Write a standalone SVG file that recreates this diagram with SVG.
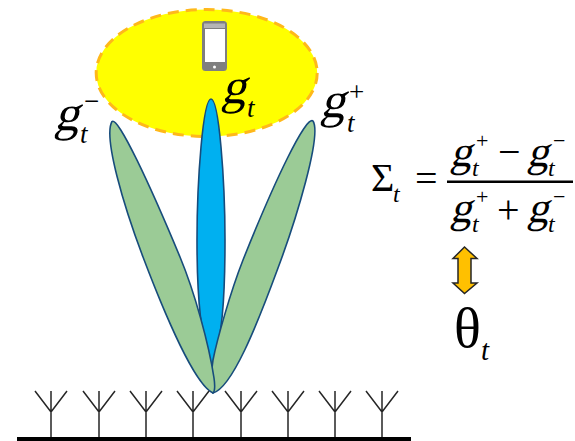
<svg xmlns="http://www.w3.org/2000/svg" width="575" height="441" viewBox="0 0 575 441">
<defs>
<style>
.m{font-family:"Liberation Serif","Times New Roman",serif;fill:#000}
.i{font-style:italic}
.ant{fill:none;stroke:#262626;stroke-width:1.5}
.side{fill:#9BCB96;stroke:#174C7C;stroke-width:1.6}
</style>
<g id="a"><path class="ant" d="M0 391V437M-16 391L0 412L16 391"/></g>
</defs>
<g id="coverage"><ellipse cx="206.7" cy="73" rx="110.5" ry="63.5" fill="#FFFF00" stroke="#FFB81A" stroke-width="3" stroke-dasharray="11 7"/></g>
<g id="phone">
<rect x="202" y="21" width="25" height="50" rx="3.5" fill="#7F7F7F"/>
<rect x="204" y="23.500" width="21" height="4.500" fill="#B5B5B5"/>
<rect x="205" y="29" width="20" height="33" fill="#fff"/>
<circle cx="214.500" cy="67" r="1.500" fill="#fff"/>
</g>
<g id="beam-center"><path d="M212 366C201 340 197 300 197 240C197 180 203 99 211 99C219 99 225 180 225 240C225 300 222 340 212 366Z" fill="#00B0F0" stroke="#174C7C" stroke-width="1.6"/></g>
<g id="beam-right"><path class="side" d="M213 393C232 388 257 325 278 268C296 220 322 135 313 121C306 115 275 180 243 260C230 293 217 340 213 360C211 372 211 385 213 393Z"/></g>
<g id="beam-left"><path class="side" d="M213 393C195 385 165 315 143 257C124 207 103 137 112 121.500C118 116 150 185 180 257C195 293 209 345 214 378C215 385 215 391 213 393Z"/></g>
<g id="array">
<use href="#a" x="51"/><use href="#a" x="99"/><use href="#a" x="146"/><use href="#a" x="193"/><use href="#a" x="241"/><use href="#a" x="288"/><use href="#a" x="335"/><use href="#a" x="382"/>
<rect x="17" y="437" width="394" height="4" fill="#000"/>
</g>
<g id="label-gt"><text class="m" transform="translate(221 103) skewX(-14)" font-size="50">g</text><text class="m i" x="247" y="117" font-size="27">t</text></g>
<g id="label-gminus"><text class="m" transform="translate(54 130) skewX(-14)" font-size="50">g</text><text class="m i" x="80" y="143" font-size="27">t</text><text class="m" x="84" y="110" font-size="27">−</text></g>
<g id="label-gplus"><text class="m" transform="translate(320 117) skewX(-14)" font-size="50">g</text><text class="m i" x="347" y="132" font-size="27">t</text><text class="m" x="349" y="101" font-size="27">+</text></g>
<g id="formula">
<text class="m" x="371" y="191" font-size="40">Σ</text><text class="m i" x="393" y="202" font-size="24">t</text>
<text class="m" x="415" y="192" font-size="40">=</text>
<rect x="447" y="180.500" width="126" height="2.500" fill="#000"/>
<text class="m" transform="translate(450 166) skewX(-14)" font-size="43">g</text><text class="m i" x="472" y="176" font-size="24">t</text><text class="m" x="476" y="148" font-size="22">+</text>
<text class="m" x="498" y="165" font-size="40">−</text>
<text class="m" transform="translate(527 166) skewX(-14)" font-size="43">g</text><text class="m i" x="548" y="176" font-size="24">t</text><text class="m" x="553" y="148" font-size="22">−</text>
<text class="m" transform="translate(450 222) skewX(-14)" font-size="43">g</text><text class="m i" x="472" y="232" font-size="24">t</text><text class="m" x="476" y="204" font-size="22">+</text>
<text class="m" x="497" y="223" font-size="40">+</text>
<text class="m" transform="translate(527 222) skewX(-14)" font-size="43">g</text><text class="m i" x="548" y="232" font-size="24">t</text><text class="m" x="553" y="204" font-size="22">−</text>
</g>
<g id="connectors"><path d="M464.500 247L477 258.500H471V283H477L464.500 293.500L453 283H458V258.500H453Z" fill="#FFC000" stroke="#262626" stroke-width="1.500"/></g>
<g id="label-theta"><text class="m" x="454" y="347" font-size="56">θ</text><text class="m i" x="481" y="360" font-size="29">t</text></g>
</svg>
